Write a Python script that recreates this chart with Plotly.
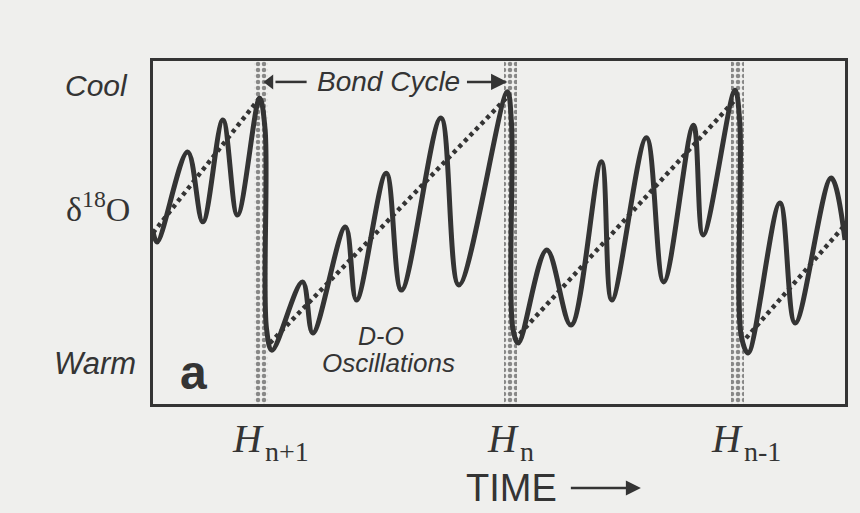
import plotly.graph_objects as go

# ---- data (time units 0-100, δ18O index: 0 = warm, 100 = cool) ----
curve_t = [0.0, 0.6, 5.0, 7.2, 10.1, 12.2, 15.4, 16.2, 16.4, 17.2,
           21.6, 23.1, 27.8, 29.4, 33.7, 35.9, 41.6, 44.2,
           51.2, 51.8, 52.0, 52.8,
           56.9, 60.4, 64.8, 66.3, 71.3, 73.8, 78.1, 79.5,
           84.1, 84.8, 85.0, 86.0,
           90.6, 92.8, 98.0, 100.0]
curve_v = [50.1, 47.2, 73.5, 53.1, 82.8, 55.1, 89.2, 80.0, 22.0, 15.7,
           35.6, 20.7, 51.6, 30.3, 67.3, 33.2, 83.4, 34.7,
           91.0, 82.0, 22.0, 17.8,
           44.9, 23.0, 70.6, 30.3, 77.6, 35.6, 81.3, 49.3,
           91.5, 82.0, 20.0, 14.9,
           58.6, 23.6, 65.9, 47.8]

trend_start_t = [0.0, 16.9, 52.2, 85.7]
trend_start_v = [49.9, 17.8, 18.7, 19.2]
trend_end_t = [15.4, 51.2, 84.1, 100.0]
trend_end_v = [89.2, 89.5, 88.6, 52.2]

heinrich_t = [15.6, 51.7, 84.5]
heinrich_sub = ["n+1", "n", "n-1"]
band_top = 100

BG = "#efefed"
INK = "#343434"

fig = go.Figure()

# stippled Heinrich bands
fig.add_trace(go.Bar(
    x=heinrich_t, y=[band_top] * len(heinrich_t), width=1.9,
    marker=dict(color=BG, line=dict(width=0),
                pattern=dict(shape=".", fgcolor="#222222", bgcolor=BG, size=6, solidity=0.45)),
    hoverinfo="skip", showlegend=False))

# dotted Bond-cycle trend lines
for i in range(len(trend_start_t)):
    fig.add_trace(go.Scatter(
        x=[trend_start_t[i], trend_end_t[i]], y=[trend_start_v[i], trend_end_v[i]],
        mode="lines", line=dict(color=INK, width=4.5, dash="4px,4px"),
        hoverinfo="skip", showlegend=False))

# D-O oscillation curve
fig.add_trace(go.Scatter(
    x=curve_t, y=curve_v, mode="lines",
    line=dict(color=INK, width=5, shape="spline", smoothing=1.0),
    hoverinfo="skip", showlegend=False))

# left Bond-cycle arrow (shaft + triangular head)
arrow_y = 93.9
left_head = heinrich_t[0] + 1.3
fig.add_trace(go.Scatter(
    x=[22.2, left_head + 0.8], y=[arrow_y, arrow_y], mode="lines",
    line=dict(color=INK, width=2.5), hoverinfo="skip", showlegend=False))
fig.add_trace(go.Scatter(
    x=[left_head], y=[arrow_y], mode="markers",
    marker=dict(symbol="triangle-left", size=13, color=INK, line=dict(width=0)),
    hoverinfo="skip", showlegend=False))

ann = []
sans = "Liberation Sans"
serif = "Liberation Serif"


def txt(x, y, text, size, family, xref="x", yref="y", xanchor="center", yanchor="middle", xshift=0):
    return dict(x=x, y=y, xref=xref, yref=yref, text=text, showarrow=False,
                xanchor=xanchor, yanchor=yanchor, xshift=xshift,
                font=dict(family=family, size=size, color=INK))


# left labels
ann.append(txt(-0.082, 0.930, "<i>Cool</i>", 30, sans, "paper", "paper"))
ann.append(txt(-0.079, 0.574, "δ<sup>18</sup>O", 34, serif, "paper", "paper"))
ann.append(txt(-0.084, 0.117, "<i>Warm</i>", 31, sans, "paper", "paper"))

# inside labels
ann.append(txt(5.8, 9.3, "<b>a</b>", 48, sans))
ann.append(txt(33.0, 19.8, "<i>D-O</i>", 25, sans))
ann.append(txt(34.1, 12.0, "<i>Oscillations</i>", 26, sans))

# "Bond Cycle" with the right arrow pointing to the next Heinrich band
ann.append(dict(x=heinrich_t[1] - 0.5, y=arrow_y, ax=34.1, ay=arrow_y, axref="x", ayref="y",
                xanchor="center", yanchor="middle",
                text="<i>Bond Cycle</i>", font=dict(family=sans, size=28, color=INK),
                showarrow=True, arrowhead=2, arrowsize=1.3, arrowwidth=2.5,
                arrowcolor=INK, startstandoff=5))

# Heinrich labels
h_shift = [5, 10, 7]
for i, t in enumerate(heinrich_t):
    ann.append(txt(t, -0.100, "<i>H</i>", 40, serif, "x", "paper",
                   xanchor="right", xshift=h_shift[i]))
    ann.append(txt(t, -0.138, heinrich_sub[i], 28, serif, "x", "paper",
                   xanchor="left", xshift=h_shift[i] - 3))

# TIME axis label with arrow
ann.append(dict(xref="paper", yref="paper", x=0.705, y=-0.245, ax=-129, ay=0,
                xanchor="center", yanchor="middle",
                text="TIME", font=dict(family=sans, size=38, color=INK),
                showarrow=True, arrowhead=2, arrowsize=1.2, arrowwidth=2.5,
                arrowcolor=INK, startstandoff=12))

fig.update_layout(
    width=860, height=513,
    margin=dict(l=153, r=13, t=61, b=109),
    paper_bgcolor=BG, plot_bgcolor=BG,
    annotations=ann, bargap=0,
    xaxis=dict(range=[0, 100], showgrid=False, zeroline=False, showticklabels=False,
               ticks="", showline=True, mirror=True, linecolor=INK, linewidth=2.5),
    yaxis=dict(range=[0, 100], showgrid=False, zeroline=False, showticklabels=False,
               ticks="", showline=True, mirror=True, linecolor=INK, linewidth=2.5),
)

fig.write_html("out.html")
